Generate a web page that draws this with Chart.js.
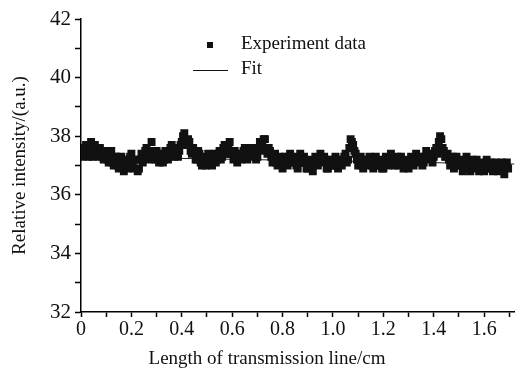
<!DOCTYPE html>
<html>
<head>
<meta charset="utf-8">
<script src="https://cdn.jsdelivr.net/npm/chart.js@4"></script>
<style>
  html, body { margin: 0; padding: 0; background: #fff; }
  #wrap { width: 520px; height: 369px; }
</style>
</head>
<body>
<div id="wrap"><canvas id="grafica"></canvas></div>
<script>
// Posiciones a lo largo de la línea (cm): una medida cada 0.01 cm y otra a mitad de paso
const posiciones = [];
for (let i = 0; i < 170; i++) posiciones.push(i / 100);
const posicionesMedias = posiciones.map(x => x + 0.005);

// Intensidad relativa (a.u.)
const intensidad = [
  37.6, 37.4, 37.7, 37.3, 37.8, 37.5, 37.6, 37.3, 37.5, 37.2,
  37.4, 37.1, 37.5, 37.0, 37.3, 36.9, 37.3, 36.8, 37.2, 37.0,
  37.4, 36.9, 37.2, 36.9, 37.4, 37.3, 37.6, 37.2, 37.8, 37.4,
  37.5, 37.1, 37.4, 37.2, 37.5, 37.3, 37.7, 37.3, 37.6, 37.5,
  37.8, 38.1, 37.7, 37.8, 37.4, 37.5, 37.2, 37.4, 37.0, 37.3,
  37.1, 37.3, 37.0, 37.4, 37.2, 37.5, 37.3, 37.7, 37.4, 37.8,
  37.4, 37.5, 37.1, 37.4, 37.3, 37.6, 37.2, 37.6, 37.4, 37.5,
  37.3, 37.8, 37.7, 37.9, 37.4, 37.5, 37.1, 37.4, 37.0, 37.3,
  36.9, 37.3, 37.0, 37.4, 37.1, 37.2, 36.9, 37.4, 37.1, 37.1,
  36.9, 37.1, 36.8, 37.3, 37.0, 37.4, 37.1, 37.2, 36.9, 37.1,
  37.0, 37.3, 36.9, 37.2, 37.2, 37.4, 37.2, 37.9, 37.7, 37.4,
  37.0, 37.3, 36.9, 37.2, 37.2, 37.2, 36.9, 37.3, 37.0, 37.0,
  36.9, 37.3, 37.0, 37.4, 37.1, 37.1, 37.0, 37.3, 36.9, 37.2,
  36.9, 37.3, 37.0, 37.4, 37.1, 37.2, 37.1, 37.5, 37.2, 37.3,
  37.3, 37.6, 37.8, 37.9, 37.5, 37.3, 37.2, 37.2, 36.9, 37.3,
  37.0, 37.0, 36.9, 37.3, 37.0, 37.0, 36.9, 37.2, 36.8, 37.1,
  36.8, 37.2, 36.9, 36.9, 36.9, 37.0, 37.0, 37.1, 36.7, 37.1
];
const intensidadMedia = [
  37.3, 37.6, 37.4, 37.6, 37.3, 37.7, 37.4, 37.6, 37.3, 37.5,
  37.2, 37.4, 37.1, 37.3, 37.0, 37.2, 37.0, 37.1, 36.9, 37.3,
  37.1, 37.2, 36.8, 37.2, 37.1, 37.5, 37.3, 37.5, 37.5, 37.2,
  37.2, 37.4, 37.1, 37.5, 37.2, 37.6, 37.4, 37.5, 37.3, 37.7,
  38.0, 37.8, 37.9, 37.5, 37.6, 37.2, 37.5, 37.1, 37.2, 37.0,
  37.4, 37.1, 37.2, 37.1, 37.4, 37.2, 37.6, 37.4, 37.6, 37.5,
  37.2, 37.3, 37.4, 37.2, 37.5, 37.3, 37.5, 37.3, 37.6, 37.2,
  37.6, 37.5, 37.9, 37.6, 37.6, 37.3, 37.3, 37.1, 37.2, 37.1,
  37.1, 37.1, 37.3, 37.1, 37.3, 37.0, 37.2, 37.1, 37.3, 36.9,
  37.2, 37.0, 37.1, 37.1, 37.2, 37.2, 37.3, 36.9, 37.2, 37.0,
  37.2, 37.0, 37.1, 37.0, 37.3, 37.1, 37.6, 37.8, 37.5, 37.2,
  37.2, 37.0, 37.1, 37.0, 37.3, 37.0, 37.2, 37.1, 37.2, 36.9,
  37.1, 37.1, 37.2, 37.2, 37.0, 37.3, 37.2, 37.1, 37.1, 37.0,
  37.1, 37.1, 37.2, 37.2, 37.3, 37.0, 37.3, 37.3, 37.4, 37.1,
  37.5, 37.4, 38.0, 37.6, 37.3, 37.4, 37.0, 37.3, 37.1, 37.1,
  37.2, 36.8, 37.1, 37.1, 36.8, 37.2, 37.1, 37.0, 37.0, 36.9,
  37.0, 37.0, 37.1, 36.8, 37.1, 36.8, 36.9, 36.9, 37.0, 36.9
];

// Recta de ajuste: extremos
const ajusteX = [0, 1.72];
const ajusteY = [37.3, 37.05];

const etiquetasLeyenda = ["Experiment data", "Fit"];
const tituloX = "Length of transmission line/cm";
const tituloY = "Relative intensity/(a.u.)";

const fuente = "'Liberation Serif', 'Times New Roman', serif";

const puntos = posiciones.map((x, i) => ({ x: x, y: intensidad[i] }))
  .concat(posicionesMedias.map((x, i) => ({ x: x, y: intensidadMedia[i] })));

// Leyenda dibujada dentro del área de la gráfica
const leyenda = {
  id: 'leyenda',
  afterDraw(chart) {
    const ctx = chart.ctx;
    ctx.save();
    ctx.fillStyle = '#111';
    ctx.fillRect(207, 42, 6, 6);
    ctx.strokeStyle = '#111';
    ctx.lineWidth = 1;
    ctx.beginPath();
    ctx.moveTo(193, 70.5);
    ctx.lineTo(228, 70.5);
    ctx.stroke();
    ctx.font = "19px " + fuente;
    ctx.textBaseline = 'middle';
    ctx.fillText(etiquetasLeyenda[0], 241, 44);
    ctx.fillText(etiquetasLeyenda[1], 241, 69);
    // título del eje X (desplazado a la izquierda como en la figura)
    ctx.textAlign = 'center';
    ctx.textBaseline = 'alphabetic';
    ctx.fillText(tituloX, 267, 364);
    ctx.restore();
  }
};

new Chart(document.querySelector("#grafica"), {
  type: 'scatter',
  data: {
    datasets: [
      {
        label: etiquetasLeyenda[1],
        type: 'line',
        data: ajusteX.map((x, i) => ({ x: x, y: ajusteY[i] })),
        borderColor: '#222',
        borderWidth: 1,
        pointRadius: 0,
        order: 2
      },
      {
        label: etiquetasLeyenda[0],
        data: puntos,
        pointStyle: 'rect',
        pointRadius: 5.6,
        backgroundColor: '#111',
        borderColor: '#111',
        borderWidth: 0,
        order: 1
      }
    ]
  },
  plugins: [leyenda],
  options: {
    responsive: true,
    maintainAspectRatio: false,
    animation: false,
    layout: { padding: { top: 19, right: 4, left: 0, bottom: 0 } },
    plugins: { legend: { display: false }, tooltip: { enabled: false } },
    scales: {
      x: {
        type: 'linear',
        min: 0,
        max: 1.72,
        afterFit: s => { s.height = 57; },
        border: { color: '#000', width: 1.5 },
        grid: { drawOnChartArea: false, tickLength: 5, tickColor: '#000', tickWidth: 1.5 },
        ticks: {
          stepSize: 0.1,
          includeBounds: false,
          autoSkip: false,
          maxRotation: 0,
          padding: 1,
          color: '#111',
          font: { family: fuente, size: 20 },
          callback: v => {
            const k = Math.round(v * 10);
            if (k % 2 !== 0) return '';
            return k === 0 ? '0' : (k / 10).toFixed(1);
          }
        }
      },
      y: {
        min: 32,
        max: 42,
        afterFit: s => { s.width = 81; },
        border: { color: '#000', width: 1.5 },
        grid: { drawOnChartArea: false, tickLength: 6, tickColor: '#000', tickWidth: 1.5 },
        title: {
          display: true,
          text: tituloY,
          color: '#111',
          font: { family: fuente, size: 19 },
          padding: { top: 9, bottom: 0 }
        },
        ticks: {
          stepSize: 1,
          autoSkip: false,
          padding: 4,
          color: '#111',
          font: { family: fuente, size: 21 },
          callback: v => (Math.round(v) % 2 === 0 ? String(Math.round(v)) : '')
        }
      }
    }
  }
});
</script>
</body>
</html>
